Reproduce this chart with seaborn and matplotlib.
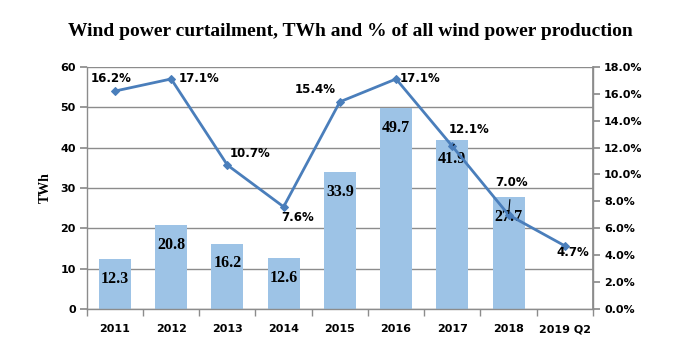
import matplotlib
matplotlib.use("Agg")
import matplotlib.pyplot as plt
import seaborn as sns
import numpy as np
import pandas as pd
from matplotlib.ticker import FuncFormatter, MultipleLocator, FixedLocator

sns.set_theme(style="white")
plt.rcParams['font.family'] = ['DejaVu Sans']
plt.rcParams['text.color'] = 'black'
plt.rcParams['xtick.color'] = 'black'
plt.rcParams['ytick.color'] = 'black'
plt.rcParams['axes.labelcolor'] = 'black'

years = ["2011", "2012", "2013", "2014", "2015", "2016", "2017", "2018", "2019 Q2"]
twh = [12.3, 20.8, 16.2, 12.6, 33.9, 49.7, 41.9, 27.7, np.nan]
pct = [16.2, 17.1, 10.7, 7.6, 15.4, 17.1, 12.1, 7.0, 4.7]
pct_labels = ["16.2%", "17.1%", "10.7%", "7.6%", "15.4%", "17.1%", "12.1%", "7.0%", "4.7%"]

df = pd.DataFrame({"year": years, "twh": twh, "pct": pct, "pos": np.arange(len(years))})

bar_col = "#9DC3E6"
line_col = "#4A7EBB"
grid_col = "#8C8C8C"
box = [0.124, 0.117, 0.723, 0.692]

fig = plt.figure(figsize=(7, 3.5), dpi=100)
ax = fig.add_axes(box)

sns.barplot(data=df, x="year", y="twh", color=bar_col, width=0.57,
            saturation=1, ax=ax, zorder=2, linewidth=0)
ax.set_xlim(-0.5, len(years) - 0.5)
ax.set_ylim(0, 60)
ax.yaxis.set_major_locator(MultipleLocator(10))
ax.grid(axis="y", color=grid_col, linewidth=1, zorder=0)
ax.set_axisbelow(True)
ax.set_xlabel("")
ax.set_ylabel("TWh", fontfamily="Liberation Serif", fontweight="bold", fontsize=10, labelpad=6)

ax.spines["top"].set_visible(False)
for s in ["left", "bottom", "right"]:
    ax.spines[s].set_color(grid_col)
    ax.spines[s].set_linewidth(1)

ax.tick_params(axis="y", which="major", length=5, color=grid_col, direction="out",
               labelsize=8, left=True, pad=3)
ax.tick_params(axis="x", which="major", length=0, labelsize=8, pad=11)
ax.xaxis.set_minor_locator(FixedLocator(np.arange(-0.5, len(years), 1)))
ax.tick_params(axis="x", which="minor", length=5, color=grid_col, direction="out", bottom=True)
for lab in ax.get_xticklabels() + ax.get_yticklabels():
    lab.set_fontweight("bold")

# values inside bars
for i, v in enumerate(twh):
    if np.isnan(v):
        continue
    ax.annotate(f"{v:.1f}", xy=(i, v), xytext=(0, -14), textcoords="offset points",
                ha="center", va="center", fontsize=11.5, fontweight="bold",
                fontfamily="Liberation Serif", color="black", zorder=5)

ax2 = ax.twinx()
ax2.set_position(box)
sns.lineplot(data=df, x="pos", y="pct", ax=ax2, color=line_col, linewidth=2,
             marker="D", markersize=4, markeredgecolor=line_col)
ax2.set_xlim(-0.5, len(years) - 0.5)
ax2.set_ylim(0, 18)
ax2.yaxis.set_major_locator(MultipleLocator(2))
ax2.yaxis.set_major_formatter(FuncFormatter(lambda v, p: f"{v:.1f}%"))
ax2.set_ylabel("")
ax2.set_xlabel("")
ax2.grid(False)
for s in ["top", "left", "bottom"]:
    ax2.spines[s].set_visible(False)
ax2.spines["right"].set_color(grid_col)
ax2.tick_params(axis="y", length=5, color=grid_col, direction="out", right=True,
                labelsize=8, pad=3)
for lab in ax2.get_yticklabels():
    lab.set_fontweight("bold")

# percentage labels: (dx, dy) offsets in points, leader line flag
offsets = [(-3, 9), (20, 0), (16, 8), (10, -8), (-18, 9), (17, 0), (12, 12), (2, 23), (6, -5)]
leaders = [False, False, False, False, False, False, True, True, False]
for i, (lbl, (dx, dy), ld) in enumerate(zip(pct_labels, offsets, leaders)):
    kw = {}
    if ld:
        kw["arrowprops"] = dict(arrowstyle="-", color="black", lw=0.8, shrinkA=5, shrinkB=1)
    ax2.annotate(lbl, xy=(i, pct[i]), xytext=(dx, dy), textcoords="offset points",
                 ha="center", va="center", fontsize=8.5, fontweight="bold",
                 color="black", **kw)

fig.text(0.5, 0.909, "Wind power curtailment, TWh and % of all wind power production",
         ha="center", va="center", fontsize=14, fontweight="bold",
         fontfamily="Liberation Serif")

fig.savefig("out.png", dpi=100)
